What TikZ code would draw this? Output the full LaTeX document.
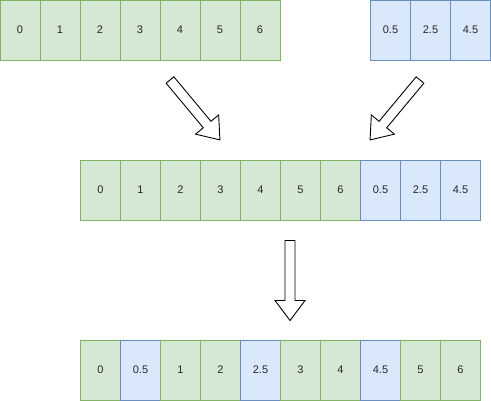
\documentclass[tikz,border=0pt]{standalone}
\usepackage{fontspec}
\setmainfont{Liberation Sans}
\usepackage{tikz}
\definecolor{cellgreen}{HTML}{D5E8D4}
\definecolor{linegreen}{HTML}{82B366}
\definecolor{cellblue}{HTML}{DAE8FC}
\definecolor{lineblue}{HTML}{6C8EBF}

\tikzset{
  cell/.style={minimum width=40pt, minimum height=60pt, inner sep=0pt, outer sep=0pt,
    line width=0.9pt, font=\fontsize{11}{13}\selectfont, text=black!85},
  gcell/.style={cell, fill=cellgreen, draw=linegreen},
  bcell/.style={cell, fill=cellblue, draw=lineblue},
  hollowarrow/.pic={
    \draw[line width=0.9pt, fill=white] (0,-5) -- ({#1-20},-5) -- ({#1-20},-15) -- (#1,0)
      -- ({#1-20},15) -- ({#1-20},5) -- (0,5) -- cycle;
  }
}

\begin{document}
\begin{tikzpicture}[x=1pt, y=1pt]
\useasboundingbox (0,0) rectangle (491,-401);
\foreach \v [count=\i from 0] in {0,1,2,3,4,5,6}
  \node[gcell] (t\i) at ({20+40*\i},-30) {\v};
\foreach \v [count=\i from 0] in {0.5,2.5,4.5}
  \node[bcell] (u\i) at ({390.5+40*\i},-30) {\v};
\foreach \v [count=\i from 0] in {0,1,2,3,4,5,6}
  \node[gcell] (m\i) at ({100.5+40*\i},-190) {\v};
\foreach \v [count=\i from 7] in {0.5,2.5,4.5}
  \node[bcell] (m\i) at ({100.5+40*\i},-190) {\v};
\foreach \v/\s [count=\i from 0] in {0/gcell,0.5/bcell,1/gcell,2/gcell,2.5/bcell,3/gcell,4/gcell,4.5/bcell,5/gcell,6/gcell}
  \node[\s] (b\i) at ({100.5+40*\i},-370) {\v};
\pic[rotate=-50.2] at (170,-80) {hollowarrow=78};
\pic[rotate=-129.8] at (420,-80) {hollowarrow=78};
\pic[rotate=-90] at (290,-240.5) {hollowarrow=80};
\end{tikzpicture}
\end{document}
